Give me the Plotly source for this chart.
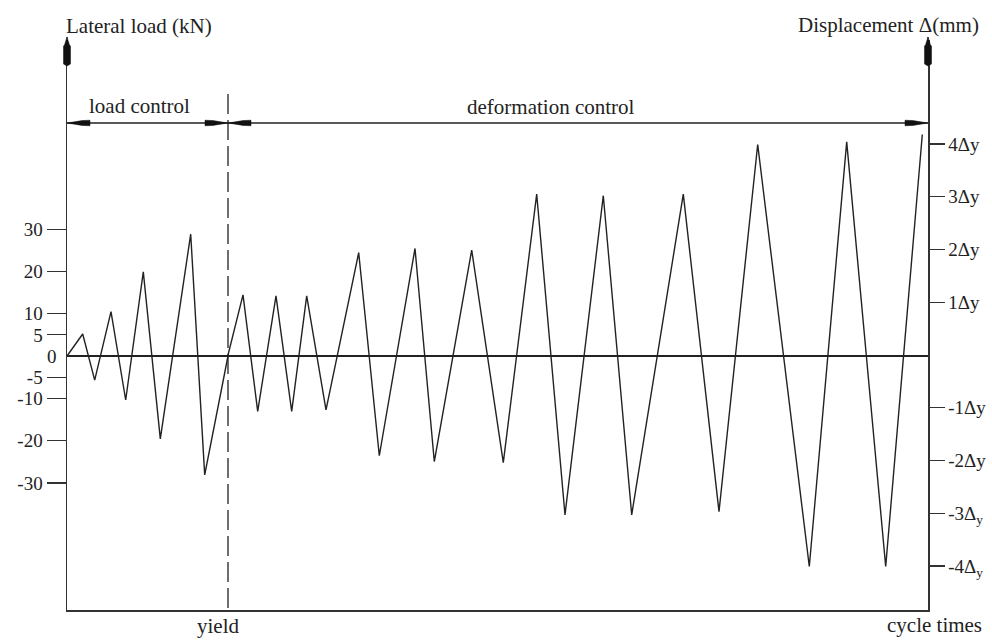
import plotly.graph_objects as go

# ---- data ----
# load-controlled part (time step, lateral load in kN)
t_load = [0, 15.7, 27.7, 44, 58.7, 76.3, 93.3, 123.7, 137.7, 161]
load_kN = [0, 5.2, -5.7, 10.5, -10.4, 19.9, -19.6, 28.8, -28.1, 0]

# deformation-controlled part (time step, displacement in multiples of yield displacement)
t_def = [161, 176, 190.7, 209, 224.7, 239.7, 259, 291.7, 312.3, 348, 367.3, 404.7,
         436.3, 469.7, 498, 536.3, 564.7, 616.3, 652, 690.7, 742.3, 779.7, 818.7, 855.3]
disp_dy = [0, 1.14, -1.07, 1.12, -1.07, 1.12, -1.04, 1.94, -1.91, 2.02, -2.02, 1.99,
           -2.04, 3.05, -3.03, 3.02, -3.03, 3.05, -2.97, 3.99, -4.01, 4.04, -4.01, 4.18]

t_yield = 161

load_ticks = [30, 20, 10, 5, -5, -10, -20, -30]
load_tick_text = ["30", "20", "10", "5", "-5", "-10", "-20", "-30"]
disp_ticks = [4, 3, 2, 1, -1, -2, -3, -4]
disp_tick_text = ["4Δy", "3Δy", "2Δy", "1Δy", "-1Δy", "-2Δy", "-3Δ<sub>y</sub>", "-4Δ<sub>y</sub>"]

# ---- layout geometry (pixels) ----
W, H = 992, 640
L, R, T, B = 67, 928, 40, 610
PW, PH = R - L, B - T


def px(p):
    return (p - L) / PW


def py(p):
    return (B - p) / PH


FONT = "Liberation Serif"
INK = "#222"
LINE = "#333"

fig = go.Figure()
fig.add_trace(go.Scatter(x=t_load, y=load_kN, mode="lines",
                         line=dict(color=INK, width=1.4), yaxis="y", hoverinfo="skip"))
fig.add_trace(go.Scatter(x=t_def, y=disp_dy, mode="lines",
                         line=dict(color=INK, width=1.4), yaxis="y2", hoverinfo="skip"))

shapes = []
# yield dashed line
shapes.append(dict(type="line", xref="x", yref="paper", x0=t_yield, x1=t_yield,
                   y0=py(608), y1=py(92), line=dict(color=INK, width=1.3, dash="20px,6px")))
# bracket line for control phases
shapes.append(dict(type="line", xref="paper", yref="paper", x0=0, x1=1,
                   y0=py(123), y1=py(123), line=dict(color=INK, width=1.3)))


def harrow(tip, direction):
    # direction +1 -> points right, -1 -> points left
    d = -direction
    pts = [(tip, 123), (tip + d * 15, 120.6), (tip + d * 23, 120.2),
           (tip + d * 23, 125.8), (tip + d * 15, 125.4)]
    path = "M " + " L ".join(f"{px(a):.5f},{py(b):.5f}" for a, b in pts) + " Z"
    return dict(type="path", xref="paper", yref="paper", path=path,
                fillcolor="#111", line=dict(color="#111", width=0.5))


def varrow(x):
    pts = [(x, 37), (x + 2.5, 45), (x + 3.5, 46), (x + 3.5, 64), (x, 66),
           (x - 3.5, 64), (x - 3.5, 46), (x - 2.5, 45)]
    path = "M " + " L ".join(f"{px(a):.5f},{py(b):.5f}" for a, b in pts) + " Z"
    return dict(type="path", xref="paper", yref="paper", path=path,
                fillcolor="#111", line=dict(color="#111", width=0.5))


shapes += [harrow(67, -1), harrow(228, 1), harrow(228, -1), harrow(928, 1),
           varrow(67), varrow(928)]

# axis extensions up to the arrows
shapes.append(dict(type="line", xref="paper", yref="paper", x0=px(67), x1=px(67),
                   y0=py(40), y1=py(37), line=dict(color=LINE, width=1.5)))
shapes.append(dict(type="line", xref="paper", yref="paper", x0=px(928), x1=px(928),
                   y0=py(40), y1=py(37), line=dict(color=LINE, width=1.5)))

annotations = []


def label(text, x, y, xanchor, size=21):
    annotations.append(dict(text=text, xref="paper", yref="paper", x=px(x), y=py(y),
                            xanchor=xanchor, yanchor="middle", showarrow=False,
                            font=dict(family=FONT, size=size, color=INK)))


label("Lateral load (kN)", 64, 26, "left")
label("Displacement Δ(mm)", 981, 25, "right")
label("load control", 139, 106, "center")
label("deformation control", 551, 107, "center")
label("yield", 218, 626, "center")
label("cycle times", 934, 625, "center")
annotations.append(dict(text="0", xref="paper", yref="y", x=px(59), y=0, xanchor="right",
                        yanchor="middle", showarrow=False,
                        font=dict(family=FONT, size=19, color=INK)))

fig.update_layout(
    width=W, height=H,
    margin=dict(l=L, r=W - R, t=T, b=H - B, pad=0),
    paper_bgcolor="white", plot_bgcolor="white",
    showlegend=False, hovermode=False,
    xaxis=dict(range=[0, PW], showgrid=False, zeroline=False, showticklabels=False,
               ticks="", showline=True, linecolor=LINE, linewidth=1.5, fixedrange=True),
    yaxis=dict(range=[(356 - B) / 4.23, (356 - T) / 4.23], showgrid=False,
               zeroline=True, zerolinecolor=INK, zerolinewidth=1.2,
               tickmode="array", tickvals=load_ticks, ticktext=load_tick_text,
               ticks="outside", ticklen=19, tickwidth=1.2, tickcolor=LINE,
               showline=True, linecolor=LINE, linewidth=1.5, automargin=False,
               tickfont=dict(family=FONT, size=19, color=INK), fixedrange=True),
    yaxis2=dict(range=[(355 - B) / 52.75, (355 - T) / 52.75], overlaying="y", side="right",
                showgrid=False, zeroline=False,
                tickmode="array", tickvals=disp_ticks, ticktext=disp_tick_text,
                ticks="outside", ticklen=15, tickwidth=1.2, tickcolor=LINE,
                showline=True, linecolor=LINE, linewidth=1.5, automargin=False,
                tickfont=dict(family=FONT, size=19, color=INK), fixedrange=True),
    shapes=shapes,
    annotations=annotations,
)

fig.write_html("out.html", config={"displayModeBar": False, "staticPlot": True},
               post_script="document.body.style.margin='0';document.body.style.overflow='hidden';")
